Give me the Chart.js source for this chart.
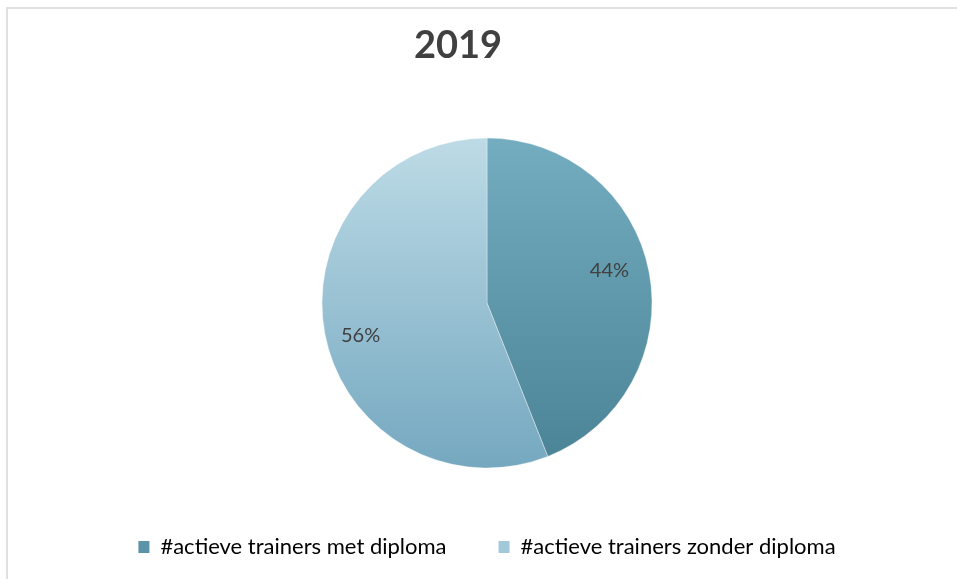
<!DOCTYPE html>
<html>
<head>
<meta charset="utf-8">
<script src="https://cdn.jsdelivr.net/npm/chart.js@4/dist/chart.umd.min.js"></script>
<style>
  html, body { margin: 0; padding: 0; background: #fff; }
  #wrap { position: relative; width: 957px; height: 579px; }
  #frame { position: absolute; left: 6px; top: 7px; width: 951px; height: 572px;
           border-left: 2px solid #e0e0e0; border-top: 2px solid #e0e0e0; box-sizing: border-box; }
  canvas { position: absolute; left: 0; top: 0; }
</style>
</head>
<body>
<div id="wrap">
  <div id="frame"></div>
  <canvas id="chart" width="957" height="579"></canvas>
</div>
<script>
const chartTitle = "2019";
const categories = ["#actieve trainers met diploma", "#actieve trainers zonder diploma"];
const values = [44, 56];
const topColors = ["#74adc0", "#bddbe6"];
const bottomColors = ["#4a8396", "#75a8c0"];
const legendColors = ["#5b93a7", "#a2c9d9"];
const fontFamily = "'Lato', 'Open Sans', sans-serif";
const textColor = "#404040";

function sliceFill(ctx) {
  const chart = ctx.chart;
  const area = chart.chartArea;
  if (!area) return topColors[ctx.dataIndex];
  const cy = (area.top + area.bottom) / 2;
  const g = chart.ctx.createLinearGradient(0, cy - 165, 0, cy + 165);
  g.addColorStop(0, topColors[ctx.dataIndex]);
  g.addColorStop(1, bottomColors[ctx.dataIndex]);
  return g;
}

const titlePlugin = {
  id: "titleText",
  afterDraw(chart) {
    const c = chart.ctx;
    c.save();
    c.font = "bold 38px " + fontFamily;
    c.fillStyle = textColor;
    c.textAlign = "center";
    c.textBaseline = "alphabetic";
    c.fillText(chartTitle, 458, 58);
    c.restore();
  }
};

const labelPlugin = {
  id: "sliceLabels",
  afterDatasetsDraw(chart) {
    const meta = chart.getDatasetMeta(0);
    const total = values.reduce((a, b) => a + b, 0);
    const c = chart.ctx;
    c.save();
    c.font = "20px " + fontFamily;
    c.fillStyle = textColor;
    c.textAlign = "center";
    c.textBaseline = "middle";
    meta.data.forEach((arc, i) => {
      const p = arc.getProps(["x", "y", "startAngle", "endAngle", "outerRadius"], true);
      const mid = (p.startAngle + p.endAngle) / 2 - 0.07;
      const d = p.outerRadius * 0.78;
      c.fillText(Math.round(values[i] / total * 100) + "%", p.x + Math.cos(mid) * d - 2, p.y + Math.sin(mid) * d);
    });
    c.restore();
  }
};

new Chart(document.getElementById("chart"), {
  type: "pie",
  data: {
    labels: categories,
    datasets: [{
      data: values,
      backgroundColor: sliceFill,
      borderColor: "rgba(255,255,255,0.35)",
      borderWidth: 1,
      radius: 165
    }]
  },
  options: {
    responsive: false,
    animation: false,
    layout: { padding: { top: 122, left: 17, right: 0, bottom: 11 } },
    plugins: {
      title: { display: false },
      tooltip: { enabled: false },
      legend: {
        position: "bottom",
        labels: {
          boxWidth: 11,
          boxHeight: 12,
          padding: 52,
          color: textColor,
          font: { family: fontFamily, size: 22 },
          generateLabels(chart) {
            return categories.map((name, i) => ({
              text: name,
              fillStyle: legendColors[i],
              strokeStyle: legendColors[i],
              lineWidth: 0,
              index: i
            }));
          }
        }
      }
    }
  },
  plugins: [titlePlugin, labelPlugin]
});
</script>
</body>
</html>
